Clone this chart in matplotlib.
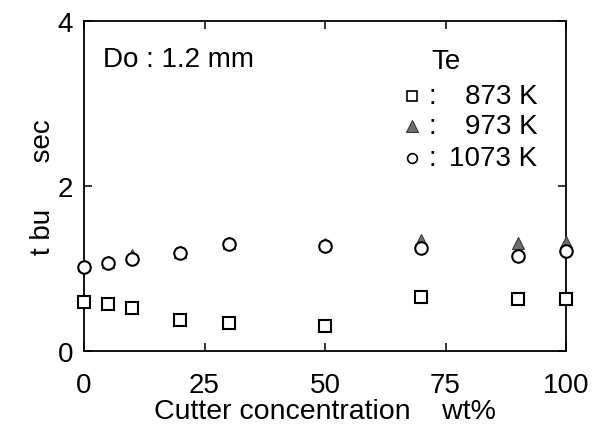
import matplotlib
matplotlib.use("Agg")
import matplotlib.pyplot as plt

plt.rcParams['font.family'] = ['Liberation Sans', 'DejaVu Sans']

# Data
conc = [0, 5, 10, 20, 30, 50, 70, 90, 100]
t_873 = [0.60, 0.57, 0.52, 0.38, 0.34, 0.30, 0.65, 0.63, 0.63]
t_973 = [1.04, 1.08, 1.16, 1.20, 1.31, 1.30, 1.34, 1.31, 1.32]
t_1073 = [1.02, 1.07, 1.11, 1.19, 1.30, 1.27, 1.25, 1.15, 1.21]
legend_labels = ['873 K', '973 K', '1073 K']
xticks = [0, 25, 50, 75, 100]
yticks = [0, 2, 4]

fig = plt.figure(figsize=(5.99, 4.27), dpi=100)
ax = fig.add_axes([84/599, 1-352/427, (566-84)/599, (352-22)/427])

ms = 9
ax.plot(conc, t_973, linestyle='none', marker='^', ms=ms, mfc='#6e6e6e', mec='#3a3a3a', mew=0.8, zorder=3, clip_on=False)
ax.plot(conc, t_1073, linestyle='none', marker='o', ms=ms, mfc='white', mec='black', mew=1.5, zorder=4, clip_on=False)
ax.plot(conc, t_873, linestyle='none', marker='s', ms=ms, mfc='white', mec='black', mew=1.5, zorder=4, clip_on=False)

ax.set_xlim(0, 100)
ax.set_ylim(0, 4)
ax.set_xticks(xticks)
ax.set_yticks(yticks)
ax.tick_params(direction='in', length=6, width=1.1, top=True, right=True, labelsize=20)
ax.tick_params(axis='x', pad=15)
ax.tick_params(axis='y', pad=8)
for s in ax.spines.values():
    s.set_linewidth(1.3)

ax.set_xlabel('Cutter concentration    wt%', fontsize=20.5, labelpad=0)
ax.set_ylabel('t bu      sec', fontsize=20, labelpad=1)

ax.text(0.039, 0.885, 'Do : 1.2 mm', transform=ax.transAxes, fontsize=20, va='center', ha='left')
ax.text(0.72, 0.878, 'Te', transform=ax.transAxes, fontsize=20, va='center', ha='left')

leg_y = [0.774, 0.683, 0.585]
styles = [dict(marker='s', mfc='white', mec='black', mew=1.2, ms=7),
          dict(marker='^', mfc='#6e6e6e', mec='#3a3a3a', mew=0.8, ms=8),
          dict(marker='o', mfc='white', mec='black', mew=1.2, ms=7)]
for y, st, lab in zip(leg_y, styles, legend_labels):
    ax.plot([0.680], [y], transform=ax.transAxes, linestyle='none', clip_on=False, **st)
    ax.text(0.723, y, ':', transform=ax.transAxes, fontsize=20, va='center', ha='center')
    ax.text(0.941, y, lab, transform=ax.transAxes, fontsize=20, va='center', ha='right')

fig.savefig('out.png', dpi=100)
